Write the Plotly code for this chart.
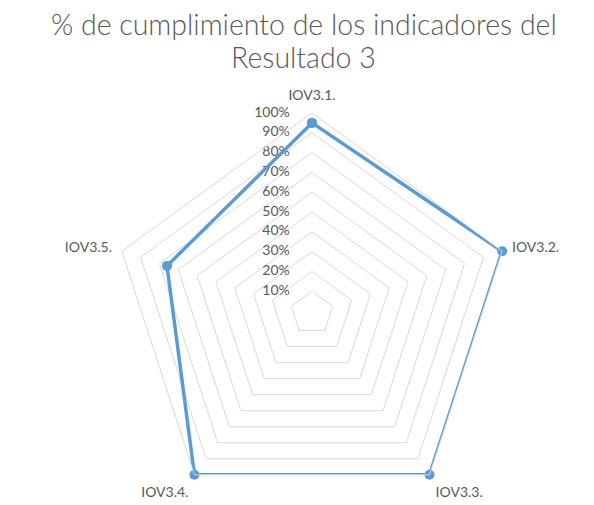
import plotly.graph_objects as go

categories = ["IOV3.1.", "IOV3.2.", "IOV3.3.", "IOV3.4.", "IOV3.5."]
values = [0.95, 1.0, 1.0, 1.0, 0.76]
radial_ticks = [0, 0.1, 0.2, 0.3, 0.4, 0.5, 0.6, 0.7, 0.8, 0.9, 1.0]
radial_labels = ["0%", "10%", "20%", "30%", "40%", "50%", "60%", "70%", "80%", "90%", "100%"]
title_lines = ["% de cumplimiento de los indicadores del", "Resultado 3"]

W, H = 594, 505
R = 200
cx, cy = 304, 305

fig = go.Figure()
# radial tick labels, placed left of the vertical axis (as in Excel)
fig.add_trace(go.Scatterpolar(
    r=radial_ticks,
    theta=[categories[0]] * len(radial_ticks),
    mode="markers+text",
    marker=dict(size=34, color="rgba(0,0,0,0)"),
    text=radial_labels,
    textposition="middle left",
    textfont=dict(size=14, color="#595959", family="Lato, sans-serif"),
    showlegend=False,
    hoverinfo="skip",
    cliponaxis=False,
))
fig.add_trace(go.Scatterpolar(
    r=values + values[:1],
    theta=categories + categories[:1],
    mode="lines+markers",
    line=dict(color="#5B9BD5", width=3.5),
    marker=dict(color="#5B9BD5", size=10),
    showlegend=False,
    hoverinfo="skip",
))

title_y = [16, 49]
fig.update_layout(
    width=W, height=H,
    paper_bgcolor="white",
    margin=dict(l=0, r=0, t=0, b=0),
    font=dict(family="Lato, Open Sans, sans-serif", color="#595959"),
    annotations=[dict(
        text=line,
        x=0.498, xanchor="center", xref="paper",
        y=1 - yy / H, yanchor="middle", yref="paper",
        showarrow=False, align="center",
        font=dict(size=28.5, color="#595959", family="Lato, sans-serif", weight=300),
    ) for line, yy in zip(title_lines, title_y)],
    polar=dict(
        domain=dict(x=[(cx - R) / W, (cx + R) / W], y=[(H - cy - R) / H, (H - cy + R) / H]),
        gridshape="linear",
        bgcolor="white",
        radialaxis=dict(
            range=[-0.01, 1],
            tickvals=radial_ticks[1:],
            showticklabels=False,
            angle=90,
            showline=False,
            ticks="",
            gridcolor="#d9d9d9",
            gridwidth=1,
        ),
        angularaxis=dict(
            rotation=90,
            direction="clockwise",
            showline=True,
            linecolor="#d9d9d9",
            linewidth=1,
            showgrid=False,
            ticks="outside",
            ticklen=7,
            tickcolor="rgba(0,0,0,0)",
            tickfont=dict(size=14, color="#595959"),
        ),
    ),
)

fig.write_html("out.html")
